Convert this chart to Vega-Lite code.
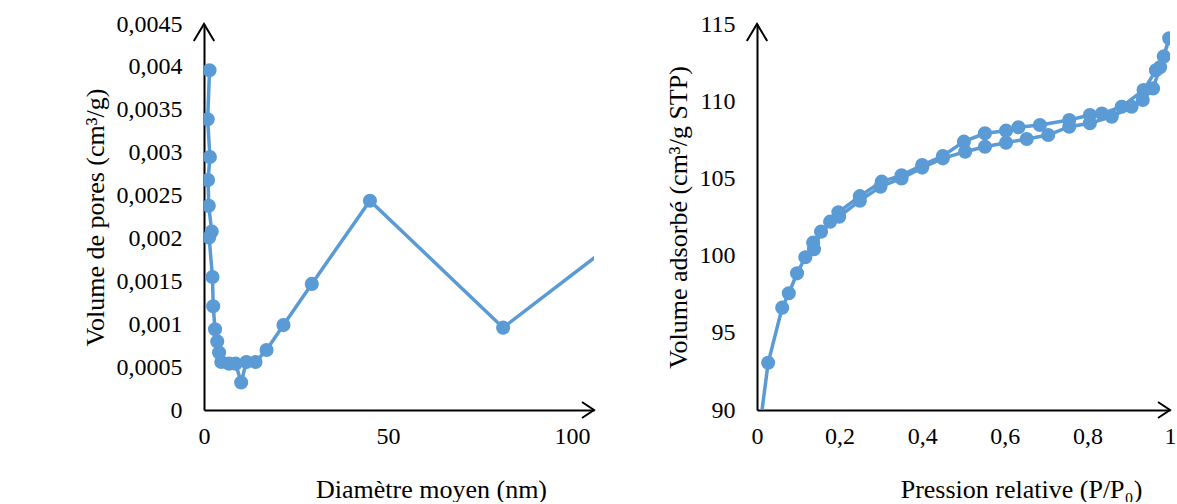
{
  "$schema": "https://vega.github.io/schema/vega-lite/v6.json",
  "padding": {"left": 82, "top": 12, "right": 0, "bottom": 0},
  "background": "white",
  "spacing": 67,
  "config": {
    "view": {"stroke": null},
    "font": "Liberation Serif",
    "axis": {
      "grid": false,
      "ticks": false,
      "domainColor": "black",
      "domainWidth": 2,
      "labelFont": "Liberation Serif",
      "labelFontSize": 24,
      "labelColor": "black",
      "labelFlush": false,
      "labelOverlap": false,
      "titleFont": "Liberation Serif",
      "titleFontSize": 26,
      "titleFontWeight": "normal",
      "titleColor": "black"
    }
  },
  "datasets": {
    "pores": [
      {"i": 1, "d": 1.5, "v": 0.00396},
      {"i": 2, "d": 1.0, "v": 0.00339},
      {"i": 3, "d": 1.6, "v": 0.00295},
      {"i": 4, "d": 1.1, "v": 0.00268},
      {"i": 5, "d": 1.3, "v": 0.00238},
      {"i": 6, "d": 2.1, "v": 0.00208},
      {"i": 7, "d": 1.4, "v": 0.00201},
      {"i": 8, "d": 2.3, "v": 0.00155},
      {"i": 9, "d": 2.5, "v": 0.00121},
      {"i": 10, "d": 3.0, "v": 0.00094},
      {"i": 11, "d": 3.6, "v": 0.0008},
      {"i": 12, "d": 4.1, "v": 0.00067},
      {"i": 13, "d": 4.7, "v": 0.00056},
      {"i": 14, "d": 6.8, "v": 0.00054},
      {"i": 15, "d": 8.6, "v": 0.00054},
      {"i": 16, "d": 10.1, "v": 0.00032},
      {"i": 17, "d": 11.5, "v": 0.00056},
      {"i": 18, "d": 14.0, "v": 0.00056},
      {"i": 19, "d": 17.0, "v": 0.0007},
      {"i": 20, "d": 21.6, "v": 0.00099},
      {"i": 21, "d": 29.3, "v": 0.00147},
      {"i": 22, "d": 45.1, "v": 0.00244},
      {"i": 23, "d": 81.3, "v": 0.00096},
      {"i": 24, "d": 130, "v": 0.00256}
    ],
    "iso": [
      {"i": 1, "p": 0.005, "q": 88.5},
      {"i": 2, "p": 0.027, "q": 93.06},
      {"i": 3, "p": 0.061, "q": 96.63},
      {"i": 4, "p": 0.077, "q": 97.56},
      {"i": 5, "p": 0.097, "q": 98.85},
      {"i": 6, "p": 0.117, "q": 99.89},
      {"i": 7, "p": 0.138, "q": 100.41},
      {"i": 8, "p": 0.155, "q": 101.55},
      {"i": 9, "p": 0.199, "q": 102.52},
      {"i": 10, "p": 0.249, "q": 103.56},
      {"i": 11, "p": 0.299, "q": 104.46},
      {"i": 12, "p": 0.35, "q": 105.0},
      {"i": 13, "p": 0.4, "q": 105.7},
      {"i": 14, "p": 0.45, "q": 106.3},
      {"i": 15, "p": 0.504, "q": 106.73},
      {"i": 16, "p": 0.552, "q": 107.05},
      {"i": 17, "p": 0.603, "q": 107.31},
      {"i": 18, "p": 0.653, "q": 107.55},
      {"i": 19, "p": 0.705, "q": 107.81},
      {"i": 20, "p": 0.756, "q": 108.35},
      {"i": 21, "p": 0.806, "q": 108.57},
      {"i": 22, "p": 0.859, "q": 109.0},
      {"i": 23, "p": 0.907, "q": 109.64},
      {"i": 24, "p": 0.934, "q": 110.08},
      {"i": 25, "p": 0.959, "q": 110.83},
      {"i": 26, "p": 0.976, "q": 112.2},
      {"i": 27, "p": 0.998, "q": 114.07},
      {"i": 28, "p": 0.985, "q": 112.9},
      {"i": 29, "p": 0.966, "q": 112.0},
      {"i": 30, "p": 0.936, "q": 110.72},
      {"i": 31, "p": 0.883, "q": 109.64},
      {"i": 32, "p": 0.835, "q": 109.2},
      {"i": 33, "p": 0.806, "q": 109.1},
      {"i": 34, "p": 0.756, "q": 108.78},
      {"i": 35, "p": 0.685, "q": 108.46},
      {"i": 36, "p": 0.633, "q": 108.31},
      {"i": 37, "p": 0.603, "q": 108.09},
      {"i": 38, "p": 0.552, "q": 107.92},
      {"i": 39, "p": 0.501, "q": 107.38},
      {"i": 40, "p": 0.45, "q": 106.45},
      {"i": 41, "p": 0.4, "q": 105.87},
      {"i": 42, "p": 0.35, "q": 105.2},
      {"i": 43, "p": 0.302, "q": 104.79},
      {"i": 44, "p": 0.249, "q": 103.85},
      {"i": 45, "p": 0.197, "q": 102.8},
      {"i": 46, "p": 0.177, "q": 102.2},
      {"i": 47, "p": 0.136, "q": 100.84}
    ]
  },
  "hconcat": [
    {
      "width": 390,
      "height": 386,
      "layer": [
        {
          "data": {"name": "pores"},
          "mark": {"type": "line", "clip": true, "color": "#5B9BD5", "strokeWidth": 3.5},
          "encoding": {
            "x": {"field": "d", "type": "quantitative", "scale": {"domain": [0, 106], "nice": false},
              "axis": {"title": "Diamètre moyen (nm)", "values": [0, 50, 100], "labelPadding": 14, "titlePadding": 28, "titleX": 227}},
            "y": {"field": "v", "type": "quantitative", "scale": {"domain": [0, 0.0045], "nice": false},
              "axis": {"title": "Volume de pores (cm³/g)", "values": [0, 0.0005, 0.001, 0.0015, 0.002, 0.0025, 0.003, 0.0035, 0.004, 0.0045],
                "labelExpr": "replace(format(datum.value, '~g'), '.', ',')", "labelPadding": 22, "titlePadding": 8}},
            "order": {"field": "i", "type": "quantitative"}
          }
        },
        {
          "data": {"name": "pores"},
          "mark": {"type": "point", "clip": true, "filled": true, "opacity": 1, "size": 200, "color": "#5B9BD5"},
          "encoding": {
            "x": {"field": "d", "type": "quantitative"},
            "y": {"field": "v", "type": "quantitative"}
          }
        },
        {
          "data": {"values": [{}]},
          "mark": {"type": "point", "shape": "M-1,-0.67L0,0L-1,0.67", "filled": false, "stroke": "black", "strokeWidth": 2, "size": 576, "opacity": 1},
          "encoding": {
            "x": {"datum": 106, "type": "quantitative"},
            "y": {"datum": 0, "type": "quantitative"}
          }
        },
        {
          "data": {"values": [{}]},
          "mark": {"type": "point", "shape": "M-0.6,1L0,0L0.6,1", "filled": false, "stroke": "black", "strokeWidth": 2, "size": 1156, "opacity": 1},
          "encoding": {
            "x": {"datum": 0, "type": "quantitative"},
            "y": {"datum": 0.0045, "type": "quantitative"}
          }
        }
      ]
    },
    {
      "width": 413,
      "height": 386,
      "layer": [
        {
          "data": {"name": "iso"},
          "mark": {"type": "line", "clip": true, "color": "#5B9BD5", "strokeWidth": 3.5},
          "encoding": {
            "x": {"field": "p", "type": "quantitative", "scale": {"domain": [0, 1], "nice": false},
              "axis": {"title": "Pression relative (P/P₀)", "values": [0, 0.2, 0.4, 0.6, 0.8, 1], "labelExpr": "replace(format(datum.value, '~g'), '.', ',')", "labelPadding": 14, "titlePadding": 28, "titleX": 264}},
            "y": {"field": "q", "type": "quantitative", "scale": {"domain": [90, 115], "nice": false},
              "axis": {"title": "Volume adsorbé (cm³/g STP)", "values": [90, 95, 100, 105, 110, 115], "labelPadding": 22, "titlePadding": 8}},
            "order": {"field": "i", "type": "quantitative"}
          }
        },
        {
          "data": {"name": "iso"},
          "mark": {"type": "point", "clip": true, "filled": true, "opacity": 1, "size": 200, "color": "#5B9BD5"},
          "encoding": {
            "x": {"field": "p", "type": "quantitative"},
            "y": {"field": "q", "type": "quantitative"}
          }
        },
        {
          "data": {"values": [{}]},
          "mark": {"type": "point", "shape": "M-1,-0.67L0,0L-1,0.67", "filled": false, "stroke": "black", "strokeWidth": 2, "size": 576, "opacity": 1},
          "encoding": {
            "x": {"datum": 1, "type": "quantitative"},
            "y": {"datum": 90, "type": "quantitative"}
          }
        },
        {
          "data": {"values": [{}]},
          "mark": {"type": "point", "shape": "M-0.6,1L0,0L0.6,1", "filled": false, "stroke": "black", "strokeWidth": 2, "size": 1156, "opacity": 1},
          "encoding": {
            "x": {"datum": 0, "type": "quantitative"},
            "y": {"datum": 115, "type": "quantitative"}
          }
        }
      ]
    }
  ]
}
